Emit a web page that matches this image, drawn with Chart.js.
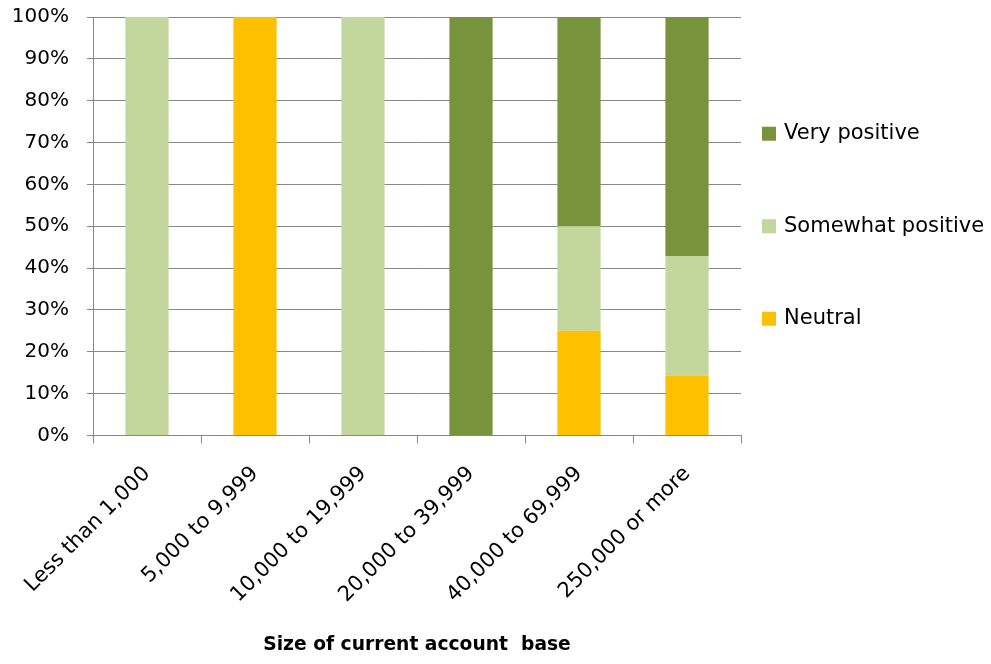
<!DOCTYPE html>
<html>
<head>
<meta charset="utf-8">
<script src="https://cdn.jsdelivr.net/npm/chart.js@4/dist/chart.umd.min.js"></script>
<style>
  html, body { margin: 0; padding: 0; background: #ffffff; }
  #wrap { width: 991px; height: 664px; position: relative; }
</style>
</head>
<body>
<div id="wrap"><canvas id="c" width="991" height="664"></canvas></div>
<script>
// Size of current account base (x categories)
const categories = ['Less than 1,000', '5,000 to 9,999', '10,000 to 19,999', '20,000 to 39,999', '40,000 to 69,999', '250,000 or more'];
// Share of responses per category, in percent
const neutral = [0, 100, 0, 0, 25, 14.3];
const somewhatPositive = [100, 0, 100, 0, 25, 28.6];
const veryPositive = [0, 0, 0, 100, 50, 57.1];
// Y axis ticks
const yTicks = [0, 10, 20, 30, 40, 50, 60, 70, 80, 90, 100];

const FONT = "'DejaVu Sans', sans-serif";
const GRID = '#888888';

// Legend drawn to the right of the plot, top entry first
const sideLegend = {
  id: 'sideLegend',
  afterDraw(chart) {
    const ctx = chart.ctx;
    const area = chart.chartArea;
    const items = chart.data.datasets.slice().reverse();
    const mid = (area.top + area.bottom) / 2;
    const gap = 92.5;
    ctx.save();
    ctx.font = "21px " + FONT;
    ctx.textBaseline = 'middle';
    ctx.textAlign = 'left';
    items.forEach((ds, i) => {
      const y = mid + (i - (items.length - 1) / 2) * gap;
      const x = area.right + 21;
      ctx.fillStyle = ds.backgroundColor;
      ctx.fillRect(x, y - 7, 14, 14);
      ctx.fillStyle = '#000000';
      ctx.fillText(ds.label, x + 22, y);
    });
    ctx.restore();
  }
};

new Chart(document.getElementById('c'), {
  type: 'bar',
  data: {
    labels: categories,
    datasets: [
      { label: 'Neutral', data: neutral, backgroundColor: '#FFC000' },
      { label: 'Somewhat positive', data: somewhatPositive, backgroundColor: '#C3D69B' },
      { label: 'Very positive', data: veryPositive, backgroundColor: '#77933C' }
    ]
  },
  options: {
    responsive: false,
    animation: false,
    devicePixelRatio: 1,
    layout: { padding: { left: 12, right: 250, top: 17, bottom: 0 } },
    datasets: { bar: { barPercentage: 0.4, categoryPercentage: 1.0 } },
    plugins: {
      legend: { display: false },
      tooltip: { enabled: false }
    },
    scales: {
      x: {
        stacked: true,
        // rotated labels may hang left of the plot; don't reserve room for them
        afterFit(scale) { scale.paddingLeft = 0; scale.paddingRight = 0; },
        grid: { display: true, drawOnChartArea: false, drawTicks: true, tickLength: 8, color: GRID, offset: true },
        border: { display: true, color: GRID, width: 1 },
        ticks: { color: '#000000', font: { family: FONT, size: 21 }, minRotation: 45, maxRotation: 45, autoSkip: false, padding: 18 },
        title: {
          display: true,
          text: 'Size of current account  base',
          color: '#000000',
          font: { family: FONT, size: 18.7, weight: 'bold' },
          padding: { top: 8, bottom: 8 }
        }
      },
      y: {
        stacked: true,
        min: 0,
        max: 100,
        afterBuildTicks(scale) { scale.ticks = yTicks.map(v => ({ value: v })); },
        // axis band: widest label + tick padding + tick length
        afterFit(scale) { scale.width = 81; scale.paddingTop = 0; scale.paddingBottom = 0; },
        grid: { color: GRID, lineWidth: 1, tickLength: 6, drawTicks: true },
        border: { display: true, color: GRID, width: 1 },
        ticks: {
          color: '#000000',
          font: { family: FONT, size: 20 },
          padding: 18,
          callback: v => v + '%'
        }
      }
    }
  },
  plugins: [sideLegend]
});
</script>
</body>
</html>
